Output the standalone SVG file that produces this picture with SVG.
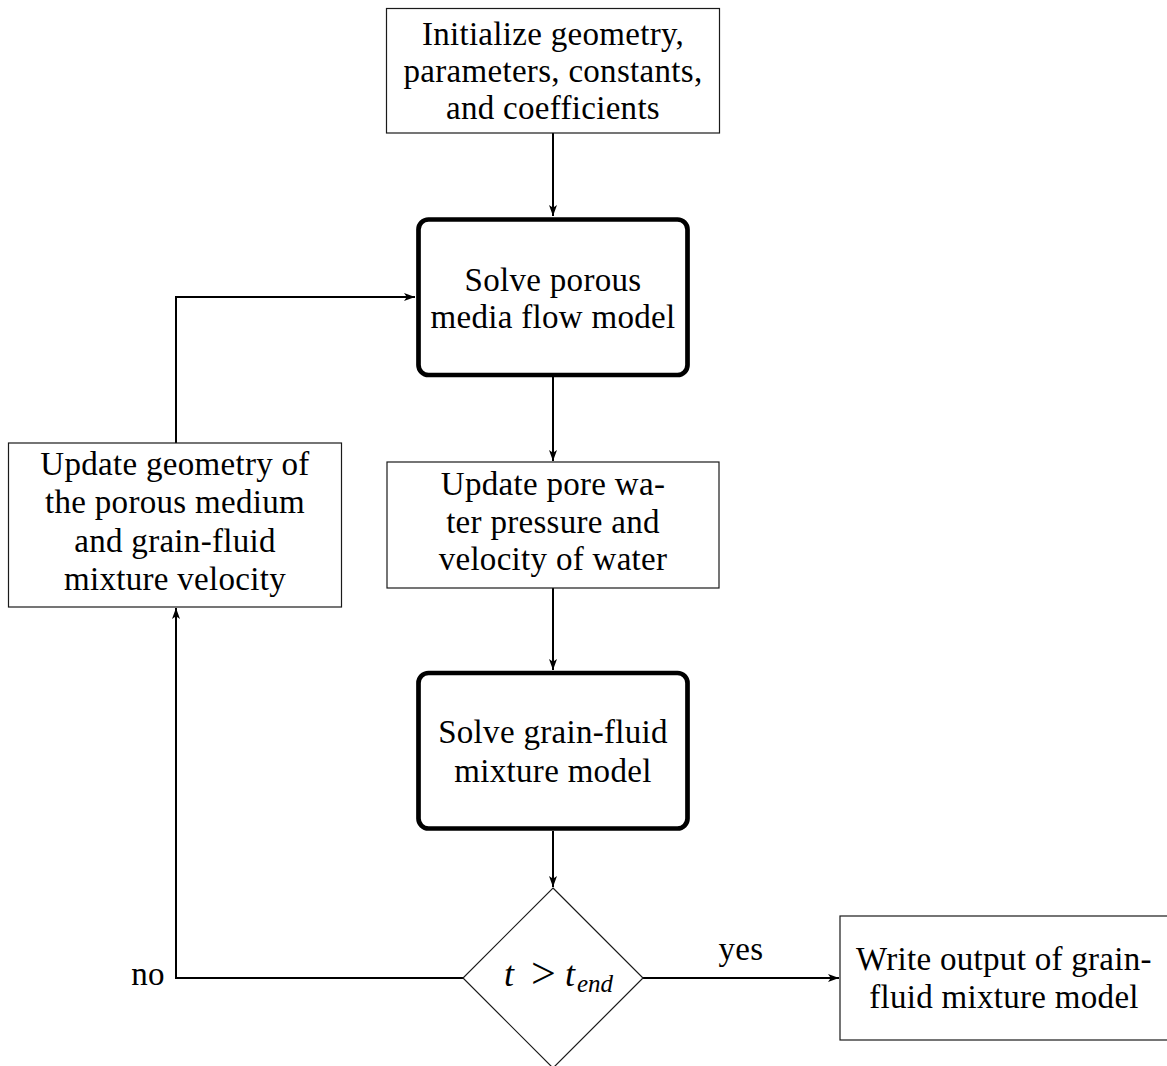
<svg xmlns="http://www.w3.org/2000/svg" width="1167" height="1066" viewBox="0 0 1167 1066">
<style>
.box{fill:#fff;stroke:#1a1a1a;stroke-width:1.2}
.tbox{fill:#fff;stroke:#000;stroke-width:4.7}
.lbl{font-family:"Liberation Serif","Times New Roman",serif;font-size:33px;letter-spacing:0.3px;fill:#000;text-anchor:middle}
.math{font-family:"Liberation Serif","Times New Roman",serif;font-size:36px;fill:#000;text-anchor:start}
.conn{fill:none;stroke:#000;stroke-width:2}
</style>
<defs>
<marker id="ah" markerUnits="userSpaceOnUse" viewBox="0 0 11 8" refX="11" refY="4" markerWidth="11" markerHeight="8" orient="auto">
<path d="M0,0 L11,4 L0,8 L2.8,4 Z" fill="#000"/>
</marker>
</defs>
<rect width="1167" height="1066" fill="#fff"/>
<g id="connectors">
<path class="conn" d="M553,133 V216" marker-end="url(#ah)"/>
<path class="conn" d="M553,377 V461" marker-end="url(#ah)"/>
<path class="conn" d="M553,588 V670" marker-end="url(#ah)"/>
<path class="conn" d="M553,831 V887" marker-end="url(#ah)"/>
<path class="conn" d="M643,978 H839" marker-end="url(#ah)"/>
<path class="conn" d="M463,978 H176 V608" marker-end="url(#ah)"/>
<path class="conn" d="M176,443 V297 H415" marker-end="url(#ah)"/>
<text class="lbl" x="741" y="960">yes</text>
<text class="lbl" x="148" y="985">no</text>
</g>
<g id="init">
<rect class="box" x="386.5" y="8.5" width="333" height="124.5"/>
<text class="lbl" x="553" y="45">Initialize geometry,</text>
<text class="lbl" x="553" y="82">parameters, constants,</text>
<text class="lbl" x="553" y="119">and coefficients</text>
</g>
<g id="solve-porous">
<rect class="tbox" x="418.5" y="219.5" width="269" height="155.5" rx="10"/>
<text class="lbl" x="553" y="291">Solve porous</text>
<text class="lbl" x="553" y="328">media flow model</text>
</g>
<g id="update-pore">
<rect class="box" x="387" y="462" width="332" height="126"/>
<text class="lbl" x="553" y="495">Update pore wa-</text>
<text class="lbl" x="553" y="533">ter pressure and</text>
<text class="lbl" x="553" y="570">velocity of water</text>
</g>
<g id="solve-grain">
<rect class="tbox" x="418.5" y="673" width="269" height="155.5" rx="10"/>
<text class="lbl" x="553" y="743">Solve grain-fluid</text>
<text class="lbl" x="553" y="782">mixture model</text>
</g>
<g id="decision">
<path class="box" d="M553,888 L643,978 L553,1068 L463,978 Z"/>
<text class="math" y="986"><tspan x="504" font-style="italic">t</tspan><tspan x="531" font-size="44" dy="2">&gt;</tspan><tspan x="565" font-style="italic" dy="-2">t</tspan><tspan x="577" font-style="italic" font-size="25" dy="6">end</tspan></text>
</g>
<g id="update-geom">
<rect class="box" x="8.5" y="443" width="333" height="164"/>
<text class="lbl" x="175" y="475">Update geometry of</text>
<text class="lbl" x="175" y="513">the porous medium</text>
<text class="lbl" x="175" y="552">and grain-fluid</text>
<text class="lbl" x="175" y="590">mixture velocity</text>
</g>
<g id="write-output">
<rect class="box" x="840" y="916" width="330" height="124"/>
<text class="lbl" x="1004" y="970">Write output of grain-</text>
<text class="lbl" x="1004" y="1008">fluid mixture model</text>
</g>
</svg>
